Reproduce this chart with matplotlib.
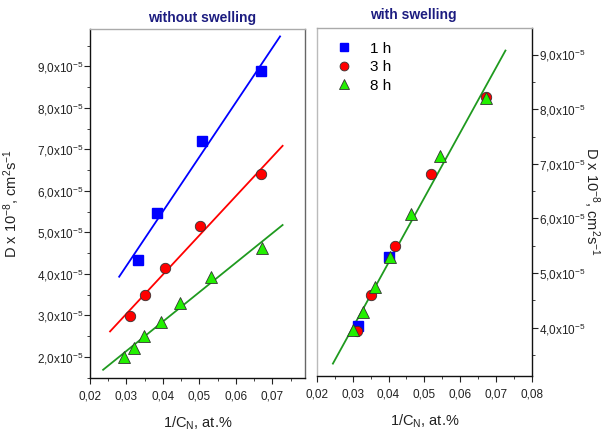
import numpy as np
import matplotlib
matplotlib.use("Agg")
import matplotlib.pyplot as plt
from matplotlib.ticker import MultipleLocator, FuncFormatter

plt.rcParams['font.family'] = ['Liberation Sans', 'DejaVu Sans']
plt.rcParams['mathtext.fontset'] = 'custom'
plt.rcParams['mathtext.rm'] = 'Liberation Sans'
plt.rcParams['mathtext.default'] = 'regular'

# --- データ (D は 1e-5 単位) ---
# 膨潤なし
x_1h_dry = [0.0332, 0.0384, 0.0508, 0.0670]
d_1h_dry = [4.34, 5.46, 7.21, 8.88]
x_3h_dry = [0.0310, 0.0352, 0.0405, 0.0501, 0.0670]
d_3h_dry = [2.99, 3.48, 4.15, 5.15, 6.40]
x_8h_dry = [0.0293, 0.0320, 0.0349, 0.0395, 0.0447, 0.0531, 0.0671]
d_8h_dry = [2.00, 2.22, 2.50, 2.85, 3.29, 3.93, 4.63]

# 膨潤あり
x_1h_sw = [0.0316, 0.0402]
d_1h_sw = [4.03, 5.30]
x_3h_sw = [0.0311, 0.0350, 0.0418, 0.0518, 0.0671]
d_3h_sw = [3.94, 4.60, 5.50, 6.81, 8.22]
x_8h_sw = [0.0300, 0.0328, 0.0362, 0.0404, 0.0464, 0.0543, 0.0671]
d_8h_sw = [3.95, 4.29, 4.74, 5.30, 6.08, 7.15, 8.21]

# フィット直線の範囲
fit_1h_dry = [0.0280, 0.0721]
fit_3h_dry = [0.0255, 0.0728]
fit_8h_dry = [0.0236, 0.0728]
fit_sw = [0.0245, 0.0726]

labels = ['1 h', '3 h', '8 h']

c_blue = '#0000ff'
c_red = '#ff0000'
c_green = '#22f000'
c_green_line = '#1f9a1f'
c_title = '#1c1c80'
ylab = r'D x 10$^{-8}$, cm$^{2}$s$^{-1}$'


def fit_line(ax, x, y, xr, color):
    k, b = np.polyfit(x, y, 1)
    xs = np.array(xr)
    ax.plot(xs, k * xs + b, color=color, lw=1.3, zorder=2)


def y_fmt(v, pos):
    return f'{v:.1f}'.replace('.', ',') + r'x10$^{-5}$'


def x_fmt(v, pos):
    return f'{v:.2f}'.replace('.', ',')


def style(ax, side):
    ax.xaxis.set_major_locator(MultipleLocator(0.01))
    ax.xaxis.set_minor_locator(MultipleLocator(0.005))
    ax.yaxis.set_major_locator(MultipleLocator(1.0))
    ax.yaxis.set_minor_locator(MultipleLocator(0.5))
    ax.xaxis.set_major_formatter(FuncFormatter(x_fmt))
    ax.yaxis.set_major_formatter(FuncFormatter(y_fmt))
    ax.tick_params(which='both', direction='out', labelsize=8.5, colors='#222222')
    ax.tick_params(which='major', length=4)
    ax.tick_params(which='minor', length=2.5)
    ax.tick_params(axis='x', which='both', top=False, pad=5)
    ax.tick_params(axis='y', which='major', pad=1)
    for s in ax.spines.values():
        s.set_linewidth(1.0)
    ax.spines['top'].set_color('#aaaaaa')
    ax.spines['bottom'].set_color('#111111')
    if side == 'left':
        ax.spines['left'].set_color('#111111')
        ax.spines['right'].set_color('#666666')
        ax.tick_params(axis='y', which='both', right=False)
    else:
        ax.spines['right'].set_color('#111111')
        ax.spines['left'].set_color('#bbbbbb')
        ax.yaxis.tick_right()
        ax.yaxis.set_label_position('right')
    ax.set_xlabel(r'1/C$_{N}$, at.%', fontsize=10.5, color='#222222', labelpad=9)


fig = plt.figure(figsize=(6.08, 4.34), dpi=100)
ax1 = fig.add_axes([0.148, 0.130, 0.354, 0.803])
ax2 = fig.add_axes([0.521, 0.134, 0.354, 0.802])

ms_sq, ms_ci, ms_tr = 6.5, 7.5, 8.5
mk_kw = dict(ls='none', mec='#333333', mew=0.6, zorder=3)

# 膨潤なし
fit_line(ax1, x_1h_dry, d_1h_dry, fit_1h_dry, c_blue)
fit_line(ax1, x_3h_dry, d_3h_dry, fit_3h_dry, c_red)
fit_line(ax1, x_8h_dry, d_8h_dry, fit_8h_dry, c_green_line)
ax1.plot(x_1h_dry, d_1h_dry, marker='s', ms=ms_sq, color=c_blue, ls='none', mec=c_blue, zorder=3)
ax1.plot(x_3h_dry, d_3h_dry, marker='o', ms=ms_ci, color=c_red, **mk_kw)
ax1.plot(x_8h_dry, d_8h_dry, marker='^', ms=ms_tr, color=c_green, **mk_kw)
ax1.set_xlim(0.02, 0.079)
ax1.set_ylim(1.5, 9.9)
style(ax1, 'left')
ax1.set_ylabel(ylab, fontsize=10.5, color='#222222')
ax1.yaxis.set_label_coords(-0.315, 0.5)
ax1.set_title('without swelling', fontsize=10, fontweight='bold', color=c_title, x=0.52, pad=5)

# 膨潤あり
fit_line(ax2, x_1h_sw + x_3h_sw + x_8h_sw, d_1h_sw + d_3h_sw + d_8h_sw, fit_sw, c_green_line)
h1, = ax2.plot(x_1h_sw, d_1h_sw, marker='s', ms=ms_sq, color=c_blue, ls='none', mec=c_blue, zorder=3)
h2, = ax2.plot(x_3h_sw, d_3h_sw, marker='o', ms=ms_ci, color=c_red, **mk_kw)
h3, = ax2.plot(x_8h_sw, d_8h_sw, marker='^', ms=ms_tr, color=c_green, **mk_kw)
ax2.set_xlim(0.02, 0.08)
ax2.set_ylim(3.12, 9.49)
style(ax2, 'right')
ax2.set_ylabel(ylab, fontsize=10.5, color='#222222', rotation=270, va='center')
ax2.yaxis.set_label_coords(1.275, 0.5)
ax2.set_title('with swelling', fontsize=10, fontweight='bold', color=c_title, x=0.45, pad=6)

ax2.legend([h1, h2, h3], labels, loc='upper left', bbox_to_anchor=(-0.01, 1.0),
           frameon=False, fontsize=11, handletextpad=0.7, labelspacing=0.3,
           markerscale=0.85)

fig.savefig('out.png', dpi=100)
